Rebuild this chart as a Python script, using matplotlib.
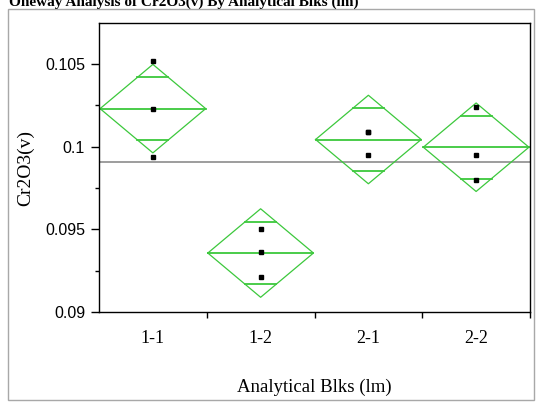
import numpy as np
import matplotlib.pyplot as plt
from matplotlib.patches import Rectangle

# Cr2O3(v) results per analytical block
groups = ['1-1', '1-2', '2-1', '2-2']
blk_1_1 = [0.1052, 0.1023, 0.0994]
blk_1_2 = [0.0950, 0.0936, 0.0921]
blk_2_1 = [0.1009, 0.1009, 0.0995]
blk_2_2 = [0.1024, 0.0995, 0.0980]
values = [blk_1_1, blk_1_2, blk_2_1, blk_2_2]

t_crit = 2.306  # t(0.975, df=8)

green = '#3cc83c'

fig = plt.figure(figsize=(5.36, 4.03), dpi=100)
ax = fig.add_axes([99 / 536, 91 / 403, 431 / 536, 289 / 403])

# pooled standard error for the means diamonds
means = [np.mean(v) for v in values]
ss = sum(np.sum((np.array(v) - m) ** 2) for v, m in zip(values, means))
df = sum(len(v) for v in values) - len(values)
s_pooled = np.sqrt(ss / df)

grand_mean = np.mean(np.concatenate(values))
ax.axhline(grand_mean, color='#8c8c8c', lw=1.2, zorder=1)

half_w = 0.49
for i, (v, m) in enumerate(zip(values, means)):
    ci = t_crit * s_pooled / np.sqrt(len(v))
    # diamond outline
    ax.plot([i - half_w, i, i + half_w, i, i - half_w],
            [m, m + ci, m, m - ci, m], color=green, lw=0.9, zorder=2)
    # mean line
    ax.plot([i - half_w, i + half_w], [m, m], color=green, lw=1.3, zorder=2)
    # overlap marks
    h = ci * np.sqrt(2) / 2
    w = half_w * (1 - h / ci)
    for y in (m + h, m - h):
        ax.plot([i - w, i + w], [y, y], color=green, lw=1.3, zorder=2)
    ax.plot([i] * len(v), v, 's', color='black', ms=3, zorder=3)

ax.set_xlim(-0.5, 3.5)
ax.set_ylim(0.09, 0.10748)

ax.set_yticks([0.09, 0.095, 0.1, 0.105])
ax.set_yticklabels(['0.09', '0.095', '0.1', '0.105'],
                   fontfamily='Liberation Sans', fontsize=11.5)
ax.set_yticks([0.0925, 0.0975, 0.1025], minor=True)
ax.tick_params(axis='y', which='major', length=6, width=1, pad=4)
ax.tick_params(axis='y', which='minor', length=3, width=1)

ax.set_xticks([0.5, 1.5, 2.5, 3.5])
ax.set_xticklabels([])
ax.set_xticks(range(len(groups)), minor=True)
ax.set_xticklabels(groups, minor=True, fontfamily='Liberation Serif', fontsize=13)
ax.tick_params(axis='x', which='major', length=4.5, width=1)
ax.tick_params(axis='x', which='minor', length=0, pad=13)

ax.set_xlabel('Analytical Blks (lm)', fontfamily='Liberation Serif', fontsize=13.5, labelpad=23)
ax.set_ylabel('Cr2O3(v)', fontfamily='Liberation Serif', fontsize=14, labelpad=8)

for sp in ax.spines.values():
    sp.set_color('black')
    sp.set_linewidth(1)

# report frame and header
fig.patches.append(Rectangle((8 / 536, 3 / 403), 526 / 536, 391 / 403,
                             transform=fig.transFigure, fill=False,
                             edgecolor='#a8a8a8', lw=1))
fig.text(9 / 536, 1 - 6 / 403, 'Oneway Analysis of Cr2O3(v) By Analytical Blks (lm)',
         fontfamily='Liberation Serif', fontweight='bold', fontsize=11,
         va='baseline', ha='left')

fig.savefig('out.png', dpi=100)
